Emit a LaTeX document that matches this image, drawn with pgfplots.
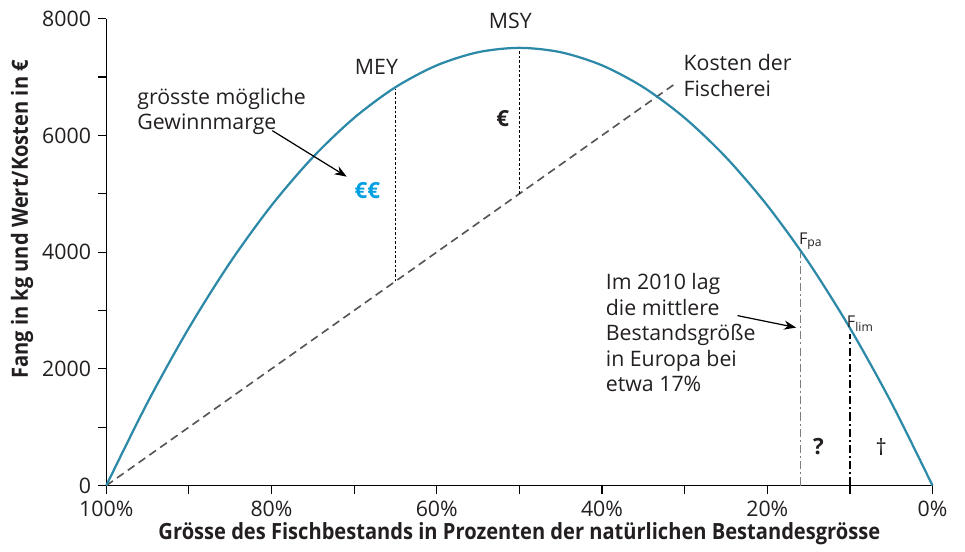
\documentclass[border=0pt]{standalone}
\usepackage{fontspec}
\setmainfont{Open Sans}
\newfontfamily\labelfont[FakeStretch=0.9]{Open Sans}
\usepackage{pgfplots}
\pgfplotsset{compat=1.18}
\usetikzlibrary{arrows.meta}

\definecolor{curveblue}{RGB}{44,137,168}
\definecolor{euroblue}{RGB}{0,160,227}
\definecolor{txt}{RGB}{35,31,32}
\definecolor{costgray}{RGB}{85,85,85}
\definecolor{fpagray}{RGB}{125,125,125}

\begin{document}
\begin{tikzpicture}
\begin{axis}[
    scale only axis,
    width=407pt, height=230pt,
    xmin=0, xmax=100, ymin=0, ymax=8000,
    x dir=reverse,
    axis x line*=bottom, axis y line*=left,
    axis line style={-, black, line width=0.6pt},
    tick align=outside,
    tick style={black, line width=0.6pt},
    major tick length=4pt, minor tick length=4pt,
    xtick={0,20,40,60,80,100},
    minor xtick={10,30,50,70,90},
    ytick={0,2000,4000,6000,8000},
    minor ytick={1000,3000,5000,7000},
    xticklabel={\pgfmathprintnumber{\tick}\%},
    scaled y ticks=false,
    /pgf/number format/assume math mode=true,
    /pgf/number format/1000 sep={},
    ticklabel style={font=\fontsize{10.5}{12}\selectfont, text=txt},
    xlabel={Grösse des Fischbestands in Prozenten der natürlichen Bestandesgrösse},
    ylabel={Fang in kg und Wert/Kosten in €},
    label style={font=\labelfont\bfseries\fontsize{11}{12}\selectfont, text=txt},
    xlabel style={yshift=4pt},
    ylabel style={at={(axis description cs:-0.102,0.57)}, anchor=center},
    clip=false,
]
% cost line
\addplot[costgray, line width=0.8pt, dash pattern=on 4pt off 2.5pt] coordinates {(100,0) (31,6900)};
% yield curve
\addplot[curveblue, line width=1.1pt, smooth] coordinates {
(0,0) (5,1425) (10,2700) (15,3825) (20,4800) (25,5625) (30,6300) (35,6825) (40,7200) (45,7425) (50,7500)
(55,7425) (60,7200) (65,6825) (70,6300) (75,5625) (80,4800) (85,3825) (90,2700) (95,1425) (100,0)};
% MEY and MSY verticals
\addplot[black, line width=0.7pt, dash pattern=on 1.3pt off 1pt] coordinates {(65,3500) (65,6800)};
\addplot[black, line width=0.7pt, dash pattern=on 1.3pt off 1pt] coordinates {(50,5000) (50,7480)};
% Fpa and Flim
\addplot[fpagray, line width=0.8pt, dash pattern=on 4pt off 1.5pt on 1pt off 1.5pt] coordinates {(16,0) (16,4000)};
\addplot[black, line width=0.9pt, dash pattern=on 4pt off 1.5pt on 1pt off 1.5pt] coordinates {(10,0) (10,2600)};

\node[font=\fontsize{10.5}{12}\selectfont, text=txt] at (axis cs:51.1,7966) {MSY};
\node[font=\fontsize{10.5}{12}\selectfont, text=txt] at (axis cs:67.3,7178) {MEY};
\node[font=\bfseries\fontsize{11}{12}\selectfont, text=txt] at (axis cs:52,6287) {€};
\node[font=\bfseries\fontsize{11}{12}\selectfont, text=euroblue] at (axis cs:68.4,5053) {€€};
\node[font=\fontsize{10.5}{12.5}\selectfont, text=txt, anchor=west, align=left] at (axis cs:97.1,6407) {grösste mögliche\\Gewinnmarge};
\draw[-{Stealth[length=6pt,width=4.5pt]}, line width=0.6pt] (axis cs:79.9,6081) -- (axis cs:70.9,5293);
\node[font=\fontsize{10.5}{12.5}\selectfont, text=txt, anchor=west, align=left] at (axis cs:31,7024) {Kosten der\\Fischerei};
\node[font=\fontsize{8}{9}\selectfont, text=txt, anchor=west, inner sep=0pt] at (axis cs:16.2,4180) {F\textsubscript{pa}};
\node[font=\fontsize{8}{9}\selectfont, text=txt, anchor=west, inner sep=0pt] at (axis cs:10.4,2775) {F\textsubscript{lim}};
\node[font=\fontsize{10.5}{12.5}\selectfont, text=txt, anchor=west, align=left] at (axis cs:40.4,2620) {Im 2010 lag\\die mittlere\\Bestandsgröße\\in Europa bei\\etwa 17\%};
\draw[-{Stealth[length=6pt,width=4.5pt]}, line width=0.6pt] (axis cs:23.6,2912) -- (axis cs:16.5,2707);
\node[font=\bfseries\fontsize{11}{12}\selectfont, text=txt] at (axis cs:13.8,668) {?};
\node[font=\fontsize{11}{12}\selectfont, text=txt] at (axis cs:6.2,668) {†};
\end{axis}
% white margins as in the original
\path ([xshift=16pt]current axis.south east);
\path ([xshift=-2pt,yshift=2pt]current bounding box.north west);
\end{tikzpicture}
\end{document}
